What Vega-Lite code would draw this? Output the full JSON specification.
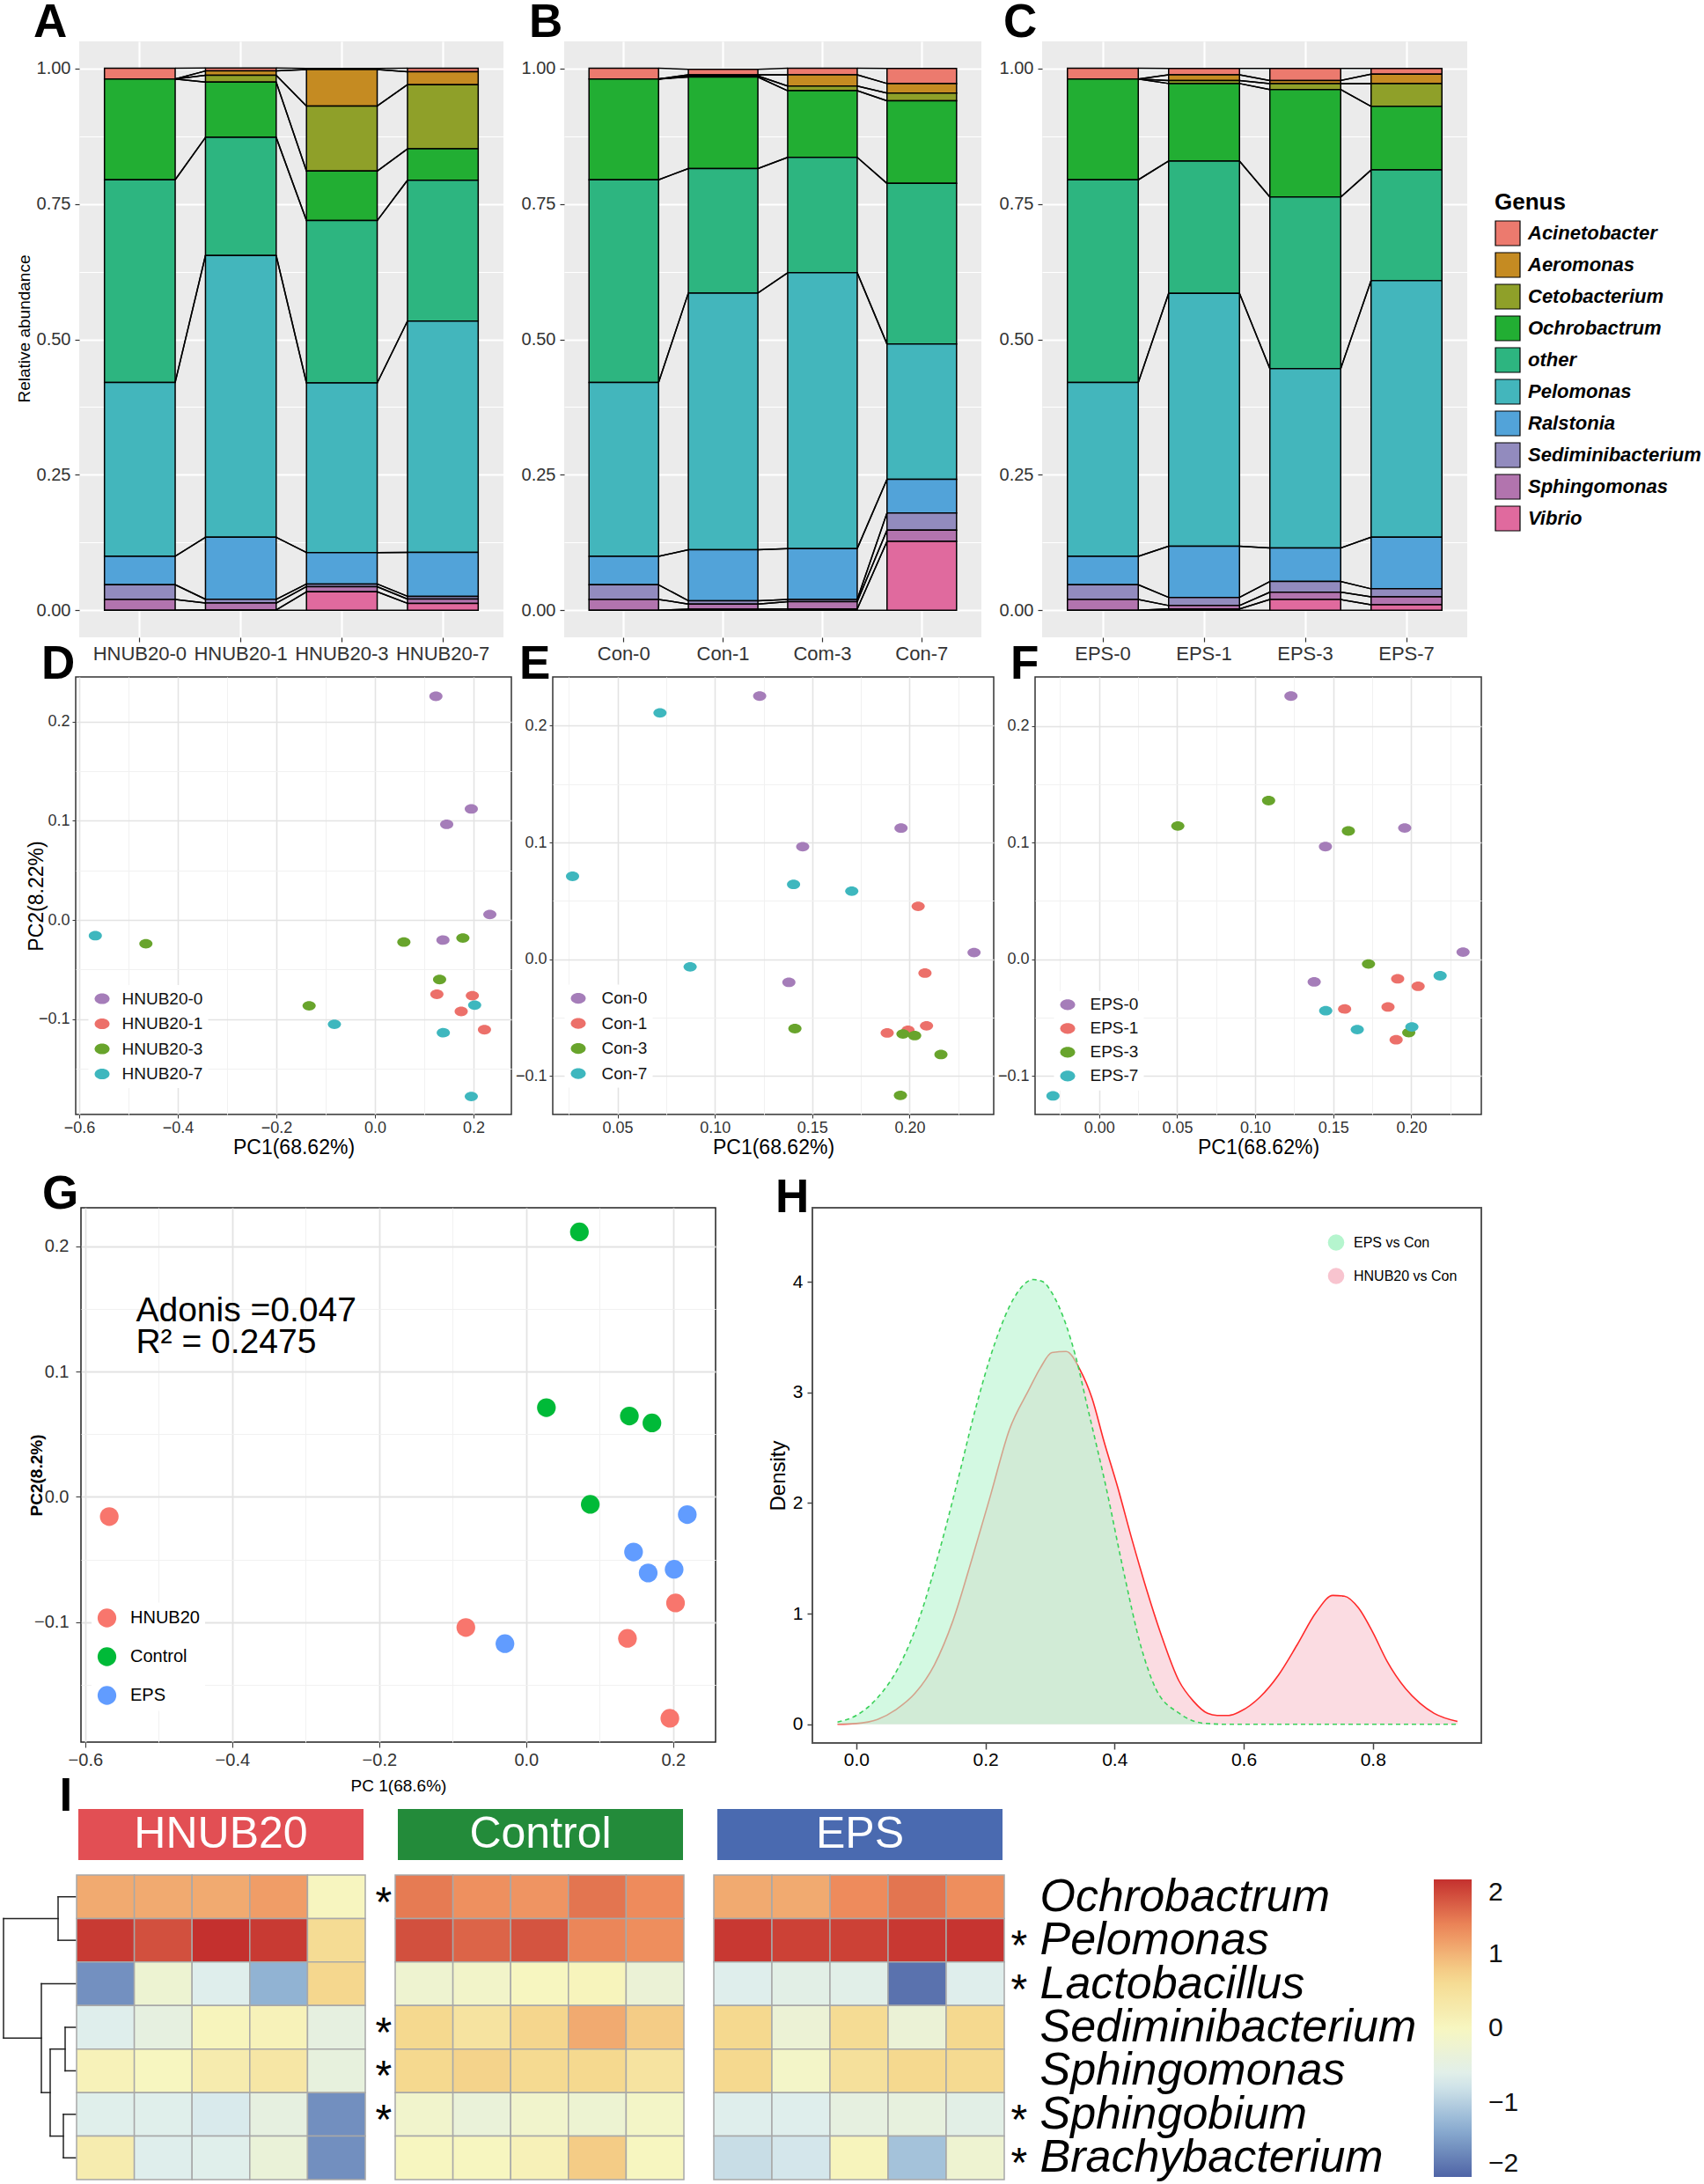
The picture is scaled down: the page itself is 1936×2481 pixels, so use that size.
{
"$schema": "https://vega.github.io/schema/vega-lite/v6.json",
"background": "white",
"padding": {"left": 2, "top": 0, "right": 0, "bottom": 0},
"config": {
  "font": "Liberation Sans",
  "view": {"stroke": null},
  "axis": {"labelFont": "Liberation Sans", "titleFont": "Liberation Sans", "labelColor": "#333333", "titleColor": "#000000", "tickColor": "#333333", "domain": false, "titleFontWeight": "normal", "labelOverlap": false, "labelFlush": false},
  "legend": {"labelFont": "Liberation Sans", "titleFont": "Liberation Sans", "labelLimit": 600},
  "title": {"font": "Liberation Sans", "fontWeight": "bold", "fontSize": 53, "anchor": "start", "frame": "group", "baseline": "alphabetic", "color": "#000000"}
},
"datasets": {
  "bars": [
    {"panel":"A","sample":"HNUB20-0","day":0,"Acinetobacter":0.020,"Aeromonas":0,"Cetobacterium":0,"Ochrobactrum":0.186,"other":0.374,"Pelomonas":0.321,"Ralstonia":0.0525,"Sediminibacterium":0.027,"Sphingomonas":0.020,"Vibrio":0},
    {"panel":"A","sample":"HNUB20-1","day":1,"Acinetobacter":0.0056,"Aeromonas":0.008,"Cetobacterium":0.0127,"Ochrobactrum":0.102,"other":0.218,"Pelomonas":0.520,"Ralstonia":0.1145,"Sediminibacterium":0.007,"Sphingomonas":0.0127,"Vibrio":0.0005},
    {"panel":"A","sample":"HNUB20-3","day":3,"Acinetobacter":0.002,"Aeromonas":0.0676,"Cetobacterium":0.120,"Ochrobactrum":0.0914,"other":0.2997,"Pelomonas":0.313,"Ralstonia":0.058,"Sediminibacterium":0.005,"Sphingomonas":0.0095,"Vibrio":0.034},
    {"panel":"A","sample":"HNUB20-7","day":7,"Acinetobacter":0.0064,"Aeromonas":0.0238,"Cetobacterium":0.1184,"Ochrobactrum":0.058,"other":0.260,"Pelomonas":0.427,"Ralstonia":0.081,"Sediminibacterium":0.005,"Sphingomonas":0.008,"Vibrio":0.0127},
    {"panel":"B","sample":"Con-0","day":0,"Acinetobacter":0.020,"Aeromonas":0,"Cetobacterium":0,"Ochrobactrum":0.186,"other":0.374,"Pelomonas":0.321,"Ralstonia":0.0525,"Sediminibacterium":0.027,"Sphingomonas":0.020,"Vibrio":0},
    {"panel":"B","sample":"Con-1","day":1,"Acinetobacter":0.0103,"Aeromonas":0.002,"Cetobacterium":0.002,"Ochrobactrum":0.169,"other":0.2297,"Pelomonas":0.474,"Ralstonia":0.094,"Sediminibacterium":0.006,"Sphingomonas":0.0095,"Vibrio":0.002},
    {"panel":"B","sample":"Com-3","day":3,"Acinetobacter":0.012,"Aeromonas":0.0207,"Cetobacterium":0.0087,"Ochrobactrum":0.123,"other":0.213,"Pelomonas":0.509,"Ralstonia":0.094,"Sediminibacterium":0.004,"Sphingomonas":0.0135,"Vibrio":0.0024},
    {"panel":"B","sample":"Con-7","day":7,"Acinetobacter":0.0278,"Aeromonas":0.0175,"Cetobacterium":0.0143,"Ochrobactrum":0.1526,"other":0.2965,"Pelomonas":0.2496,"Ralstonia":0.062,"Sediminibacterium":0.0318,"Sphingomonas":0.0207,"Vibrio":0.1272},
    {"panel":"C","sample":"EPS-0","day":0,"Acinetobacter":0.020,"Aeromonas":0,"Cetobacterium":0,"Ochrobactrum":0.186,"other":0.374,"Pelomonas":0.321,"Ralstonia":0.0525,"Sediminibacterium":0.027,"Sphingomonas":0.020,"Vibrio":0},
    {"panel":"C","sample":"EPS-1","day":1,"Acinetobacter":0.012,"Aeromonas":0.0103,"Cetobacterium":0.0056,"Ochrobactrum":0.143,"other":0.2444,"Pelomonas":0.4667,"Ralstonia":0.0944,"Sediminibacterium":0.015,"Sphingomonas":0.0063,"Vibrio":0.0024},
    {"panel":"C","sample":"EPS-3","day":3,"Acinetobacter":0.0222,"Aeromonas":0.0056,"Cetobacterium":0.0111,"Ochrobactrum":0.1984,"other":0.3167,"Pelomonas":0.331,"Ralstonia":0.0619,"Sediminibacterium":0.0198,"Sphingomonas":0.0135,"Vibrio":0.0198},
    {"panel":"C","sample":"EPS-7","day":7,"Acinetobacter":0.0103,"Aeromonas":0.0175,"Cetobacterium":0.042,"Ochrobactrum":0.1175,"other":0.204,"Pelomonas":0.4738,"Ralstonia":0.0952,"Sediminibacterium":0.015,"Sphingomonas":0.0143,"Vibrio":0.0103}
  ],
  "pts": [
    {"panel":"D","grp":"HNUB20-0","x":0.1237,"y":0.2255},{"panel":"D","grp":"HNUB20-0","x":0.1955,"y":0.112},{"panel":"D","grp":"HNUB20-0","x":0.1456,"y":0.0964},{"panel":"D","grp":"HNUB20-0","x":0.2331,"y":0.0056},{"panel":"D","grp":"HNUB20-0","x":0.138,"y":-0.0202},
    {"panel":"D","grp":"HNUB20-1","x":0.1257,"y":-0.0749},{"panel":"D","grp":"HNUB20-1","x":0.1976,"y":-0.0763},{"panel":"D","grp":"HNUB20-1","x":0.175,"y":-0.0922},{"panel":"D","grp":"HNUB20-1","x":0.2222,"y":-0.1106},
    {"panel":"D","grp":"HNUB20-3","x":-0.4646,"y":-0.0239},{"panel":"D","grp":"HNUB20-3","x":0.0587,"y":-0.0222},{"panel":"D","grp":"HNUB20-3","x":0.1784,"y":-0.0182},{"panel":"D","grp":"HNUB20-3","x":0.1312,"y":-0.06},{"panel":"D","grp":"HNUB20-3","x":-0.1335,"y":-0.0865},
    {"panel":"D","grp":"HNUB20-7","x":-0.5672,"y":-0.0158},{"panel":"D","grp":"HNUB20-7","x":-0.0822,"y":-0.1051},{"panel":"D","grp":"HNUB20-7","x":0.1387,"y":-0.1136},{"panel":"D","grp":"HNUB20-7","x":0.2023,"y":-0.0858},{"panel":"D","grp":"HNUB20-7","x":0.1955,"y":-0.1779},
    {"panel":"E","grp":"Con-0","x":0.123,"y":0.2254},{"panel":"E","grp":"Con-0","x":0.1956,"y":0.1124},{"panel":"E","grp":"Con-0","x":0.1451,"y":0.0965},{"panel":"E","grp":"Con-0","x":0.2331,"y":0.0058},{"panel":"E","grp":"Con-0","x":0.138,"y":-0.0197},
    {"panel":"E","grp":"Con-1","x":0.2044,"y":0.0454},{"panel":"E","grp":"Con-1","x":0.2079,"y":-0.0118},{"panel":"E","grp":"Con-1","x":0.2087,"y":-0.0569},{"panel":"E","grp":"Con-1","x":0.1885,"y":-0.063},{"panel":"E","grp":"Con-1","x":0.1992,"y":-0.0607},
    {"panel":"E","grp":"Con-3","x":0.1411,"y":-0.0593},{"panel":"E","grp":"Con-3","x":0.1966,"y":-0.0639},{"panel":"E","grp":"Con-3","x":0.2026,"y":-0.0653},{"panel":"E","grp":"Con-3","x":0.2161,"y":-0.0815},{"panel":"E","grp":"Con-3","x":0.1953,"y":-0.1165},
    {"panel":"E","grp":"Con-7","x":0.0718,"y":0.211},{"panel":"E","grp":"Con-7","x":0.0269,"y":0.0711},{"panel":"E","grp":"Con-7","x":0.1404,"y":0.0642},{"panel":"E","grp":"Con-7","x":0.1703,"y":0.0584},{"panel":"E","grp":"Con-7","x":0.0873,"y":-0.0064},
    {"panel":"F","grp":"EPS-0","x":0.1229,"y":0.2255},{"panel":"F","grp":"EPS-0","x":0.1958,"y":0.1125},{"panel":"F","grp":"EPS-0","x":0.145,"y":0.0965},{"panel":"F","grp":"EPS-0","x":0.2332,"y":0.0061},{"panel":"F","grp":"EPS-0","x":0.1378,"y":-0.0194},
    {"panel":"F","grp":"EPS-1","x":0.1913,"y":-0.0168},{"panel":"F","grp":"EPS-1","x":0.2044,"y":-0.0232},{"panel":"F","grp":"EPS-1","x":0.1573,"y":-0.0426},{"panel":"F","grp":"EPS-1","x":0.1851,"y":-0.0409},{"panel":"F","grp":"EPS-1","x":0.1903,"y":-0.069},
    {"panel":"F","grp":"EPS-3","x":0.0504,"y":0.1142},{"panel":"F","grp":"EPS-3","x":0.1086,"y":0.1359},{"panel":"F","grp":"EPS-3","x":0.1597,"y":0.1099},{"panel":"F","grp":"EPS-3","x":0.1726,"y":-0.0041},{"panel":"F","grp":"EPS-3","x":0.1984,"y":-0.0629},
    {"panel":"F","grp":"EPS-7","x":0.2185,"y":-0.0142},{"panel":"F","grp":"EPS-7","x":0.1452,"y":-0.0441},{"panel":"F","grp":"EPS-7","x":0.1654,"y":-0.0603},{"panel":"F","grp":"EPS-7","x":0.2004,"y":-0.058},{"panel":"F","grp":"EPS-7","x":-0.0296,"y":-0.1171}
  ],
  "gpts": [
    {"grp":"HNUB20","x":-0.5673,"y":-0.0157},{"grp":"HNUB20","x":-0.0821,"y":-0.1042},{"grp":"HNUB20","x":0.1378,"y":-0.1129},{"grp":"HNUB20","x":0.2032,"y":-0.0846},{"grp":"HNUB20","x":0.1955,"y":-0.1766},
    {"grp":"Control","x":0.0724,"y":0.2113},{"grp":"Control","x":0.0275,"y":0.0712},{"grp":"Control","x":0.1404,"y":0.0645},{"grp":"Control","x":0.1711,"y":0.059},{"grp":"Control","x":0.0872,"y":-0.006},
    {"grp":"EPS","x":0.2192,"y":-0.0141},{"grp":"EPS","x":0.1461,"y":-0.044},{"grp":"EPS","x":0.166,"y":-0.0607},{"grp":"EPS","x":0.2013,"y":-0.0578},{"grp":"EPS","x":-0.0289,"y":-0.1171}
  ],
  "dens": [
    {"s":"EPS vs Con","x":-0.029,"y":0.02},{"s":"EPS vs Con","x":0.0,"y":0.08},{"s":"EPS vs Con","x":0.033,"y":0.24},{"s":"EPS vs Con","x":0.066,"y":0.52},{"s":"EPS vs Con","x":0.099,"y":0.98},{"s":"EPS vs Con","x":0.128,"y":1.55},{"s":"EPS vs Con","x":0.157,"y":2.2},{"s":"EPS vs Con","x":0.186,"y":2.88},{"s":"EPS vs Con","x":0.215,"y":3.45},{"s":"EPS vs Con","x":0.245,"y":3.86},{"s":"EPS vs Con","x":0.274,"y":4.02},{"s":"EPS vs Con","x":0.289,"y":4.0},{"s":"EPS vs Con","x":0.303,"y":3.9},{"s":"EPS vs Con","x":0.325,"y":3.61},{"s":"EPS vs Con","x":0.34,"y":3.32},{"s":"EPS vs Con","x":0.358,"y":2.87},{"s":"EPS vs Con","x":0.387,"y":2.14},{"s":"EPS vs Con","x":0.413,"y":1.41},{"s":"EPS vs Con","x":0.442,"y":0.68},{"s":"EPS vs Con","x":0.464,"y":0.32},{"s":"EPS vs Con","x":0.5,"y":0.1},{"s":"EPS vs Con","x":0.537,"y":0.01},{"s":"EPS vs Con","x":0.574,"y":0.0},{"s":"EPS vs Con","x":0.7,"y":0.0},{"s":"EPS vs Con","x":0.931,"y":0.0},
    {"s":"HNUB20 vs Con","x":-0.029,"y":0.0},{"s":"HNUB20 vs Con","x":0.0,"y":0.007},{"s":"HNUB20 vs Con","x":0.033,"y":0.044},{"s":"HNUB20 vs Con","x":0.062,"y":0.135},{"s":"HNUB20 vs Con","x":0.091,"y":0.28},{"s":"HNUB20 vs Con","x":0.121,"y":0.537},{"s":"HNUB20 vs Con","x":0.15,"y":0.94},{"s":"HNUB20 vs Con","x":0.179,"y":1.49},{"s":"HNUB20 vs Con","x":0.208,"y":2.07},{"s":"HNUB20 vs Con","x":0.237,"y":2.66},{"s":"HNUB20 vs Con","x":0.267,"y":3.02},{"s":"HNUB20 vs Con","x":0.285,"y":3.22},{"s":"HNUB20 vs Con","x":0.303,"y":3.36},{"s":"HNUB20 vs Con","x":0.325,"y":3.37},{"s":"HNUB20 vs Con","x":0.347,"y":3.2},{"s":"HNUB20 vs Con","x":0.365,"y":2.95},{"s":"HNUB20 vs Con","x":0.384,"y":2.55},{"s":"HNUB20 vs Con","x":0.405,"y":2.14},{"s":"HNUB20 vs Con","x":0.427,"y":1.67},{"s":"HNUB20 vs Con","x":0.449,"y":1.23},{"s":"HNUB20 vs Con","x":0.471,"y":0.83},{"s":"HNUB20 vs Con","x":0.5,"y":0.39},{"s":"HNUB20 vs Con","x":0.522,"y":0.21},{"s":"HNUB20 vs Con","x":0.544,"y":0.099},{"s":"HNUB20 vs Con","x":0.559,"y":0.08},{"s":"HNUB20 vs Con","x":0.577,"y":0.08},{"s":"HNUB20 vs Con","x":0.595,"y":0.117},{"s":"HNUB20 vs Con","x":0.625,"y":0.245},{"s":"HNUB20 vs Con","x":0.654,"y":0.446},{"s":"HNUB20 vs Con","x":0.683,"y":0.72},{"s":"HNUB20 vs Con","x":0.712,"y":1.01},{"s":"HNUB20 vs Con","x":0.738,"y":1.165},{"s":"HNUB20 vs Con","x":0.756,"y":1.158},{"s":"HNUB20 vs Con","x":0.778,"y":1.05},{"s":"HNUB20 vs Con","x":0.8,"y":0.83},{"s":"HNUB20 vs Con","x":0.822,"y":0.57},{"s":"HNUB20 vs Con","x":0.851,"y":0.32},{"s":"HNUB20 vs Con","x":0.873,"y":0.19},{"s":"HNUB20 vs Con","x":0.895,"y":0.099},{"s":"HNUB20 vs Con","x":0.931,"y":0.026}
  ],
  "heat": [
    {"grp":"HNUB20","genus":"Ochrobactrum","1":1.07,"2":1.07,"3":1.07,"4":1.19,"5":0.02},
    {"grp":"HNUB20","genus":"Pelomonas","1":1.93,"2":1.77,"3":2.0,"4":1.93,"5":0.6},
    {"grp":"HNUB20","genus":"Lactobacillus","1":-1.61,"2":-0.26,"3":-0.64,"4":-1.3,"5":0.68},
    {"grp":"HNUB20","genus":"Sediminibacterium","1":-0.64,"2":-0.46,"3":0.05,"4":0.09,"5":-0.46},
    {"grp":"HNUB20","genus":"Sphingomonas","1":0.09,"2":0.0,"3":0.25,"4":0.37,"5":-0.42},
    {"grp":"HNUB20","genus":"Sphingobium","1":-0.62,"2":-0.62,"3":-0.71,"4":-0.46,"5":-1.62},
    {"grp":"HNUB20","genus":"Brachybacterium","1":0.23,"2":-0.64,"3":-0.62,"4":-0.35,"5":-1.62},
    {"grp":"Control","genus":"Ochrobactrum","1":1.46,"2":1.30,"3":1.26,"4":1.5,"5":1.34},
    {"grp":"Control","genus":"Pelomonas","1":1.77,"2":1.62,"3":1.74,"4":1.38,"5":1.32},
    {"grp":"Control","genus":"Lactobacillus","1":-0.23,"2":-0.13,"3":0.0,"4":0.05,"5":-0.32},
    {"grp":"Control","genus":"Sediminibacterium","1":0.67,"2":0.44,"3":0.69,"4":1.07,"5":0.78},
    {"grp":"Control","genus":"Sphingomonas","1":0.67,"2":0.72,"3":0.64,"4":0.66,"5":0.44},
    {"grp":"Control","genus":"Sphingobium","1":-0.17,"2":-0.36,"3":-0.17,"4":-0.26,"5":-0.1},
    {"grp":"Control","genus":"Brachybacterium","1":0.0,"2":0.0,"3":0.11,"4":0.78,"5":0.0},
    {"grp":"EPS","genus":"Ochrobactrum","1":1.07,"2":1.07,"3":1.34,"4":1.5,"5":1.32},
    {"grp":"EPS","genus":"Pelomonas","1":1.94,"2":1.88,"3":1.88,"4":1.94,"5":1.97},
    {"grp":"EPS","genus":"Lactobacillus","1":-0.64,"2":-0.55,"3":-0.58,"4":-1.88,"5":-0.64},
    {"grp":"EPS","genus":"Sediminibacterium","1":0.67,"2":-0.3,"3":0.6,"4":-0.32,"5":0.67},
    {"grp":"EPS","genus":"Sphingomonas","1":0.67,"2":-0.12,"3":0.51,"4":0.67,"5":0.64},
    {"grp":"EPS","genus":"Sphingobium","1":-0.64,"2":-0.64,"3":-0.46,"4":-0.44,"5":-0.55},
    {"grp":"EPS","genus":"Brachybacterium","1":-0.85,"2":-0.75,"3":0.05,"4":-1.14,"5":-0.25}
  ],
  "dendro": [
    {"h1":0,"h2":20,"r1":0,"r2":0},{"h1":0,"h2":20,"r1":1,"r2":1},{"h1":20,"h2":20,"r1":0,"r2":1},
    {"h1":0,"h2":12,"r1":3,"r2":3},{"h1":0,"h2":12,"r1":4,"r2":4},{"h1":12,"h2":12,"r1":3,"r2":4},
    {"h1":0,"h2":14,"r1":5,"r2":5},{"h1":0,"h2":14,"r1":6,"r2":6},{"h1":14,"h2":14,"r1":5,"r2":6},
    {"h1":12,"h2":29,"r1":3.5,"r2":3.5},{"h1":14,"h2":29,"r1":5.5,"r2":5.5},{"h1":29,"h2":29,"r1":3.5,"r2":5.5},
    {"h1":0,"h2":39,"r1":2,"r2":2},{"h1":29,"h2":39,"r1":4.5,"r2":4.5},{"h1":39,"h2":39,"r1":2,"r2":4.5},
    {"h1":20,"h2":82,"r1":0.5,"r2":0.5},{"h1":39,"h2":82,"r1":3.25,"r2":3.25},{"h1":82,"h2":82,"r1":0.5,"r2":3.25}
  ]
},
"spacing": -40,
"resolve": {"scale": {"color": "independent"}, "legend": {"color": "independent"}},
"vconcat": [
 {
  "hconcat": [
   {"width": 17, "height": 721, "data": {"values": []}, "mark": "point"},
   {
    "width": 482, "height": 677,
    "view": {"fill": "#EBEBEB", "stroke": null},
    "title": {"text": "A", "dx": -52, "offset": -6},
    "data": {"name": "bars"},
    "transform": [
     {"filter": "datum.panel === 'A'"},
     {"fold": ["Acinetobacter","Aeromonas","Cetobacterium","Ochrobactrum","other","Pelomonas","Ralstonia","Sediminibacterium","Sphingomonas","Vibrio"], "as": ["genus", "value"]},
     {"calculate": "indexof(['Acinetobacter','Aeromonas','Cetobacterium','Ochrobactrum','other','Pelomonas','Ralstonia','Sediminibacterium','Sphingomonas','Vibrio'], datum.genus)", "as": "gi"},
     {"stack": "value", "groupby": ["sample"], "sort": [{"field": "gi", "order": "descending"}], "as": ["y0", "y1"]},
     {"window": [{"op": "lead", "field": "y0", "as": "ny0"}, {"op": "lead", "field": "y1", "as": "ny1"}, {"op": "lead", "field": "sample", "as": "ns"}], "groupby": ["genus"], "sort": [{"field": "day", "order": "ascending"}]}
    ],
    "layer": [
     {"mark": {"type": "bar", "stroke": "#000000", "strokeWidth": 1.5},
      "encoding": {
       "x": {"field": "sample", "type": "nominal", "scale": {"domain": ["HNUB20-0","HNUB20-1","HNUB20-3","HNUB20-7"], "paddingInner": 0.3, "paddingOuter": 0.25},
             "axis": {"title": null, "labelFontSize": 22, "labelAngle": 0, "tickSize": 5, "tickWidth": 1.2, "labelPadding": 3, "grid": true, "gridColor": "#FFFFFF", "gridWidth": 2.2, "bandPosition": 0.5}},
       "y": {"field": "y1", "type": "quantitative", "scale": {"domain": [-0.05, 1.05], "nice": false, "zero": false},
             "axis": {"title": "Relative abundance", "titleFontSize": 19, "titleX": -57, "titleY": 326, "titleBaseline": "alphabetic",
                      "values": [0,0.125,0.25,0.375,0.5,0.625,0.75,0.875,1],
                      "labelExpr": "abs(datum.value*4-round(datum.value*4))<0.000001 ? format(datum.value,'.2f') : ''",
                      "labelFontSize": 20, "tickSize": 5, "tickWidth": 1.2, "labelPadding": 5,
                      "tickOpacity": {"condition": {"test": "abs(datum.value*4-round(datum.value*4))<0.000001", "value": 1}, "value": 0},
                      "grid": true, "gridColor": "#FFFFFF",
                      "gridWidth": {"condition": {"test": "abs(datum.value*4-round(datum.value*4))<0.000001", "value": 2.2}, "value": 1.1}}},
       "y2": {"field": "y0"},
       "color": {"field": "genus", "type": "nominal", "scale": {"domain": ["Acinetobacter","Aeromonas","Cetobacterium","Ochrobactrum","other","Pelomonas","Ralstonia","Sediminibacterium","Sphingomonas","Vibrio"], "range": ["#EC7A6E","#C58B22","#8FA029","#22AE33","#2DB580","#43B6BC","#52A3D9","#928BBE","#B274AE","#E06A9E"]}, "legend": null}
      }},
     {"transform": [{"filter": "datum.ns != null"}],
      "mark": {"type": "rule", "color": "#000000", "strokeWidth": 1.5},
      "encoding": {
       "x": {"field": "sample", "type": "nominal", "bandPosition": 1, "scale": {"domain": ["HNUB20-0","HNUB20-1","HNUB20-3","HNUB20-7"], "paddingInner": 0.3, "paddingOuter": 0.25}},
       "x2": {"field": "ns", "bandPosition": 0},
       "y": {"field": "y1", "type": "quantitative", "scale": {"domain": [-0.05, 1.05], "nice": false, "zero": false}},
       "y2": {"field": "ny1"}
      }},
     {"transform": [{"filter": "datum.ns != null"}],
      "mark": {"type": "rule", "color": "#000000", "strokeWidth": 1.5},
      "encoding": {
       "x": {"field": "sample", "type": "nominal", "bandPosition": 1, "scale": {"domain": ["HNUB20-0","HNUB20-1","HNUB20-3","HNUB20-7"], "paddingInner": 0.3, "paddingOuter": 0.25}},
       "x2": {"field": "ns", "bandPosition": 0},
       "y": {"field": "y0", "type": "quantitative", "scale": {"domain": [-0.05, 1.05], "nice": false, "zero": false}},
       "y2": {"field": "ny0"}
      }}
    ]
   },
   {
    "width": 474, "height": 677,
    "view": {"fill": "#EBEBEB", "stroke": null},
    "title": {"text": "B", "dx": -40, "offset": -6},
    "data": {"name": "bars"},
    "transform": [
     {"filter": "datum.panel === 'B'"},
     {"fold": ["Acinetobacter","Aeromonas","Cetobacterium","Ochrobactrum","other","Pelomonas","Ralstonia","Sediminibacterium","Sphingomonas","Vibrio"], "as": ["genus", "value"]},
     {"calculate": "indexof(['Acinetobacter','Aeromonas','Cetobacterium','Ochrobactrum','other','Pelomonas','Ralstonia','Sediminibacterium','Sphingomonas','Vibrio'], datum.genus)", "as": "gi"},
     {"stack": "value", "groupby": ["sample"], "sort": [{"field": "gi", "order": "descending"}], "as": ["y0", "y1"]},
     {"window": [{"op": "lead", "field": "y0", "as": "ny0"}, {"op": "lead", "field": "y1", "as": "ny1"}, {"op": "lead", "field": "sample", "as": "ns"}], "groupby": ["genus"], "sort": [{"field": "day", "order": "ascending"}]}
    ],
    "layer": [
     {"mark": {"type": "bar", "stroke": "#000000", "strokeWidth": 1.5},
      "encoding": {
       "x": {"field": "sample", "type": "nominal", "scale": {"domain": ["Con-0","Con-1","Com-3","Con-7"], "paddingInner": 0.3, "paddingOuter": 0.25},
             "axis": {"title": null, "labelFontSize": 22, "labelAngle": 0, "tickSize": 5, "tickWidth": 1.2, "labelPadding": 3, "grid": true, "gridColor": "#FFFFFF", "gridWidth": 2.2, "bandPosition": 0.5}},
       "y": {"field": "y1", "type": "quantitative", "scale": {"domain": [-0.05, 1.05], "nice": false, "zero": false},
             "axis": {"title": null,
                      "values": [0,0.125,0.25,0.375,0.5,0.625,0.75,0.875,1],
                      "labelExpr": "abs(datum.value*4-round(datum.value*4))<0.000001 ? format(datum.value,'.2f') : ''",
                      "labelFontSize": 20, "tickSize": 5, "tickWidth": 1.2, "labelPadding": 5,
                      "tickOpacity": {"condition": {"test": "abs(datum.value*4-round(datum.value*4))<0.000001", "value": 1}, "value": 0},
                      "grid": true, "gridColor": "#FFFFFF",
                      "gridWidth": {"condition": {"test": "abs(datum.value*4-round(datum.value*4))<0.000001", "value": 2.2}, "value": 1.1}}},
       "y2": {"field": "y0"},
       "color": {"field": "genus", "type": "nominal", "scale": {"domain": ["Acinetobacter","Aeromonas","Cetobacterium","Ochrobactrum","other","Pelomonas","Ralstonia","Sediminibacterium","Sphingomonas","Vibrio"], "range": ["#EC7A6E","#C58B22","#8FA029","#22AE33","#2DB580","#43B6BC","#52A3D9","#928BBE","#B274AE","#E06A9E"]}, "legend": null}
      }},
     {"transform": [{"filter": "datum.ns != null"}],
      "mark": {"type": "rule", "color": "#000000", "strokeWidth": 1.5},
      "encoding": {
       "x": {"field": "sample", "type": "nominal", "bandPosition": 1, "scale": {"domain": ["Con-0","Con-1","Com-3","Con-7"], "paddingInner": 0.3, "paddingOuter": 0.25}},
       "x2": {"field": "ns", "bandPosition": 0},
       "y": {"field": "y1", "type": "quantitative", "scale": {"domain": [-0.05, 1.05], "nice": false, "zero": false}},
       "y2": {"field": "ny1"}
      }},
     {"transform": [{"filter": "datum.ns != null"}],
      "mark": {"type": "rule", "color": "#000000", "strokeWidth": 1.5},
      "encoding": {
       "x": {"field": "sample", "type": "nominal", "bandPosition": 1, "scale": {"domain": ["Con-0","Con-1","Com-3","Con-7"], "paddingInner": 0.3, "paddingOuter": 0.25}},
       "x2": {"field": "ns", "bandPosition": 0},
       "y": {"field": "y0", "type": "quantitative", "scale": {"domain": [-0.05, 1.05], "nice": false, "zero": false}},
       "y2": {"field": "ny0"}
      }}
    ]
   },
   {
    "width": 483, "height": 677,
    "view": {"fill": "#EBEBEB", "stroke": null},
    "title": {"text": "C", "dx": -44, "offset": -6},
    "data": {"name": "bars"},
    "transform": [
     {"filter": "datum.panel === 'C'"},
     {"fold": ["Acinetobacter","Aeromonas","Cetobacterium","Ochrobactrum","other","Pelomonas","Ralstonia","Sediminibacterium","Sphingomonas","Vibrio"], "as": ["genus", "value"]},
     {"calculate": "indexof(['Acinetobacter','Aeromonas','Cetobacterium','Ochrobactrum','other','Pelomonas','Ralstonia','Sediminibacterium','Sphingomonas','Vibrio'], datum.genus)", "as": "gi"},
     {"stack": "value", "groupby": ["sample"], "sort": [{"field": "gi", "order": "descending"}], "as": ["y0", "y1"]},
     {"window": [{"op": "lead", "field": "y0", "as": "ny0"}, {"op": "lead", "field": "y1", "as": "ny1"}, {"op": "lead", "field": "sample", "as": "ns"}], "groupby": ["genus"], "sort": [{"field": "day", "order": "ascending"}]}
    ],
    "layer": [
     {"mark": {"type": "bar", "stroke": "#000000", "strokeWidth": 1.5},
      "encoding": {
       "x": {"field": "sample", "type": "nominal", "scale": {"domain": ["EPS-0","EPS-1","EPS-3","EPS-7"], "paddingInner": 0.3, "paddingOuter": 0.25},
             "axis": {"title": null, "labelFontSize": 22, "labelAngle": 0, "tickSize": 5, "tickWidth": 1.2, "labelPadding": 3, "grid": true, "gridColor": "#FFFFFF", "gridWidth": 2.2, "bandPosition": 0.5}},
       "y": {"field": "y1", "type": "quantitative", "scale": {"domain": [-0.05, 1.05], "nice": false, "zero": false},
             "axis": {"title": null,
                      "values": [0,0.125,0.25,0.375,0.5,0.625,0.75,0.875,1],
                      "labelExpr": "abs(datum.value*4-round(datum.value*4))<0.000001 ? format(datum.value,'.2f') : ''",
                      "labelFontSize": 20, "tickSize": 5, "tickWidth": 1.2, "labelPadding": 5,
                      "tickOpacity": {"condition": {"test": "abs(datum.value*4-round(datum.value*4))<0.000001", "value": 1}, "value": 0},
                      "grid": true, "gridColor": "#FFFFFF",
                      "gridWidth": {"condition": {"test": "abs(datum.value*4-round(datum.value*4))<0.000001", "value": 2.2}, "value": 1.1}}},
       "y2": {"field": "y0"},
       "color": {"field": "genus", "type": "nominal", "scale": {"domain": ["Acinetobacter","Aeromonas","Cetobacterium","Ochrobactrum","other","Pelomonas","Ralstonia","Sediminibacterium","Sphingomonas","Vibrio"], "range": ["#EC7A6E","#C58B22","#8FA029","#22AE33","#2DB580","#43B6BC","#52A3D9","#928BBE","#B274AE","#E06A9E"]},
                 "legend": {"title": "Genus", "orient": "none", "legendX": 514, "legendY": 170, "symbolType": "square", "symbolSize": 784, "symbolStrokeColor": "#000000", "symbolStrokeWidth": 1.2, "titleFontSize": 26, "titleFontWeight": "bold", "titlePadding": 7, "titleColor": "#000000", "labelFontSize": 22, "labelFontStyle": "italic", "labelFontWeight": "bold", "labelColor": "#000000", "labelOffset": 8, "rowPadding": 2, "padding": 0, "labelLimit": 600}}
      }},
     {"transform": [{"filter": "datum.ns != null"}],
      "mark": {"type": "rule", "color": "#000000", "strokeWidth": 1.5},
      "encoding": {
       "x": {"field": "sample", "type": "nominal", "bandPosition": 1, "scale": {"domain": ["EPS-0","EPS-1","EPS-3","EPS-7"], "paddingInner": 0.3, "paddingOuter": 0.25}},
       "x2": {"field": "ns", "bandPosition": 0},
       "y": {"field": "y1", "type": "quantitative", "scale": {"domain": [-0.05, 1.05], "nice": false, "zero": false}},
       "y2": {"field": "ny1"}
      }},
     {"transform": [{"filter": "datum.ns != null"}],
      "mark": {"type": "rule", "color": "#000000", "strokeWidth": 1.5},
      "encoding": {
       "x": {"field": "sample", "type": "nominal", "bandPosition": 1, "scale": {"domain": ["EPS-0","EPS-1","EPS-3","EPS-7"], "paddingInner": 0.3, "paddingOuter": 0.25}},
       "x2": {"field": "ns", "bandPosition": 0},
       "y": {"field": "y0", "type": "quantitative", "scale": {"domain": [-0.05, 1.05], "nice": false, "zero": false}},
       "y2": {"field": "ny0"}
      }}
    ]
   }
  ],
  "spacing": 69, "bounds": "flush",
  "resolve": {"scale": {"color": "independent"}, "legend": {"color": "independent"}}
 },
 {
  "hconcat": [
   {"width": 35, "height": 601, "data": {"values": []}, "mark": "point"},
   {
    "width": 495, "height": 497,
    "view": {"stroke": "#333333", "strokeWidth": 1.5},
    "title": {"text": "D", "dx": -39, "offset": -13},
    "data": {"name": "pts"},
    "transform": [{"filter": "datum.panel === 'D'"}],
    "mark": {"type": "point", "filled": true, "opacity": 1, "size": 225, "shape": "M-1,0C-1,-0.398,-0.552,-0.72,0,-0.72C0.552,-0.72,1,-0.398,1,0C1,0.398,0.552,0.72,0,0.72C-0.552,0.72,-1,0.398,-1,0Z"},
    "encoding": {
     "x": {"field": "x", "type": "quantitative", "scale": {"domain": [-0.607, 0.2768], "nice": false, "zero": false},
           "axis": {"title": "PC1(68.62%)", "titleFontSize": 23, "titleY": 44, "titleBaseline": "alphabetic",
                    "values": [-0.6,-0.5,-0.4,-0.3,-0.2,-0.1,0,0.1,0.2],
                    "labelExpr": "abs(datum.value*5-round(datum.value*5))<0.000001 ? format(datum.value,'.1f') : ''",
                    "labelFontSize": 18, "tickSize": 4, "labelPadding": 2,
                    "tickOpacity": {"condition": {"test": "abs(datum.value*5-round(datum.value*5))<0.000001", "value": 1}, "value": 0},
                    "grid": true,
                    "gridColor": {"condition": {"test": "abs(datum.value*5-round(datum.value*5))<0.000001", "value": "#E3E3E3"}, "value": "#F1F1F1"},
                    "gridWidth": {"condition": {"test": "abs(datum.value*5-round(datum.value*5))<0.000001", "value": 1.6}, "value": 1}}},
     "y": {"field": "y", "type": "quantitative", "scale": {"domain": [-0.196, 0.245], "nice": false, "zero": false},
           "axis": {"title": "PC2(8.22%)", "titleFontSize": 23, "titleX": -38, "titleBaseline": "alphabetic",
                    "values": [-0.15,-0.1,-0.05,0,0.05,0.1,0.15,0.2],
                    "labelExpr": "abs(datum.value*10-round(datum.value*10))<0.000001 ? format(datum.value,'.1f') : ''",
                    "labelFontSize": 18, "tickSize": 4, "labelPadding": 3,
                    "tickOpacity": {"condition": {"test": "abs(datum.value*10-round(datum.value*10))<0.000001", "value": 1}, "value": 0},
                    "grid": true,
                    "gridColor": {"condition": {"test": "abs(datum.value*10-round(datum.value*10))<0.000001", "value": "#E3E3E3"}, "value": "#F1F1F1"},
                    "gridWidth": {"condition": {"test": "abs(datum.value*10-round(datum.value*10))<0.000001", "value": 1.6}, "value": 1}}},
     "color": {"field": "grp", "type": "nominal", "scale": {"domain": ["HNUB20-0","HNUB20-1","HNUB20-3","HNUB20-7"], "range": ["#A57DB9","#EC706A","#68A42C","#3EB7BE"]},
               "legend": {"title": null, "orient": "none", "legendX": 14.5, "legendY": 350, "fillColor": "#FFFFFF", "padding": 6, "symbolSize": 289, "labelFontSize": 19, "labelColor": "#111111", "labelOffset": 13, "rowPadding": 8.5}}
    }
   },
   {
    "width": 501, "height": 497,
    "view": {"stroke": "#333333", "strokeWidth": 1.5},
    "title": {"text": "E", "dx": -38, "offset": -13},
    "data": {"name": "pts"},
    "transform": [{"filter": "datum.panel === 'E'"}],
    "mark": {"type": "point", "filled": true, "opacity": 1, "size": 225, "shape": "M-1,0C-1,-0.398,-0.552,-0.72,0,-0.72C0.552,-0.72,1,-0.398,1,0C1,0.398,0.552,0.72,0,0.72C-0.552,0.72,-1,0.398,-1,0Z"},
    "encoding": {
     "x": {"field": "x", "type": "quantitative", "scale": {"domain": [0.01673, 0.2432], "nice": false, "zero": false},
           "axis": {"title": "PC1(68.62%)", "titleFontSize": 23, "titleY": 44, "titleBaseline": "alphabetic",
                    "values": [0.025,0.05,0.075,0.1,0.125,0.15,0.175,0.2,0.225],
                    "labelExpr": "abs(datum.value*20-round(datum.value*20))<0.000001 ? format(datum.value,'.2f') : ''",
                    "labelFontSize": 18, "tickSize": 4, "labelPadding": 2,
                    "tickOpacity": {"condition": {"test": "abs(datum.value*20-round(datum.value*20))<0.000001", "value": 1}, "value": 0},
                    "grid": true,
                    "gridColor": {"condition": {"test": "abs(datum.value*20-round(datum.value*20))<0.000001", "value": "#E3E3E3"}, "value": "#F1F1F1"},
                    "gridWidth": {"condition": {"test": "abs(datum.value*20-round(datum.value*20))<0.000001", "value": 1.6}, "value": 1}}},
     "y": {"field": "y", "type": "quantitative", "scale": {"domain": [-0.1328, 0.2418], "nice": false, "zero": false},
           "axis": {"title": null,
                    "values": [-0.1,-0.05,0,0.05,0.1,0.15,0.2],
                    "labelExpr": "abs(datum.value*10-round(datum.value*10))<0.000001 ? format(datum.value,'.1f') : ''",
                    "labelFontSize": 18, "tickSize": 4, "labelPadding": 3,
                    "tickOpacity": {"condition": {"test": "abs(datum.value*10-round(datum.value*10))<0.000001", "value": 1}, "value": 0},
                    "grid": true,
                    "gridColor": {"condition": {"test": "abs(datum.value*10-round(datum.value*10))<0.000001", "value": "#E3E3E3"}, "value": "#F1F1F1"},
                    "gridWidth": {"condition": {"test": "abs(datum.value*10-round(datum.value*10))<0.000001", "value": 1.6}, "value": 1}}},
     "color": {"field": "grp", "type": "nominal", "scale": {"domain": ["Con-0","Con-1","Con-3","Con-7"], "range": ["#A57DB9","#EC706A","#68A42C","#3EB7BE"]},
               "legend": {"title": null, "orient": "none", "legendX": 13.5, "legendY": 349.6, "fillColor": "#FFFFFF", "padding": 6, "symbolSize": 289, "labelFontSize": 19, "labelColor": "#111111", "labelOffset": 17, "rowPadding": 8.5}}
    }
   },
   {
    "width": 507, "height": 497,
    "view": {"stroke": "#333333", "strokeWidth": 1.5},
    "title": {"text": "F", "dx": -28, "offset": -13},
    "data": {"name": "pts"},
    "transform": [{"filter": "datum.panel === 'F'"}],
    "mark": {"type": "point", "filled": true, "opacity": 1, "size": 225, "shape": "M-1,0C-1,-0.398,-0.552,-0.72,0,-0.72C0.552,-0.72,1,-0.398,1,0C1,0.398,0.552,0.72,0,0.72C-0.552,0.72,-1,0.398,-1,0Z"},
    "encoding": {
     "x": {"field": "x", "type": "quantitative", "scale": {"domain": [-0.04106, 0.2449], "nice": false, "zero": false},
           "axis": {"title": "PC1(68.62%)", "titleFontSize": 23, "titleY": 44, "titleBaseline": "alphabetic",
                    "values": [-0.025,0,0.025,0.05,0.075,0.1,0.125,0.15,0.175,0.2,0.225],
                    "labelExpr": "abs(datum.value*20-round(datum.value*20))<0.000001 ? format(datum.value,'.2f') : ''",
                    "labelFontSize": 18, "tickSize": 4, "labelPadding": 2,
                    "tickOpacity": {"condition": {"test": "abs(datum.value*20-round(datum.value*20))<0.000001", "value": 1}, "value": 0},
                    "grid": true,
                    "gridColor": {"condition": {"test": "abs(datum.value*20-round(datum.value*20))<0.000001", "value": "#E3E3E3"}, "value": "#F1F1F1"},
                    "gridWidth": {"condition": {"test": "abs(datum.value*20-round(datum.value*20))<0.000001", "value": 1.6}, "value": 1}}},
     "y": {"field": "y", "type": "quantitative", "scale": {"domain": [-0.133, 0.2419], "nice": false, "zero": false},
           "axis": {"title": null,
                    "values": [-0.1,-0.05,0,0.05,0.1,0.15,0.2],
                    "labelExpr": "abs(datum.value*10-round(datum.value*10))<0.000001 ? format(datum.value,'.1f') : ''",
                    "labelFontSize": 18, "tickSize": 4, "labelPadding": 3,
                    "tickOpacity": {"condition": {"test": "abs(datum.value*10-round(datum.value*10))<0.000001", "value": 1}, "value": 0},
                    "grid": true,
                    "gridColor": {"condition": {"test": "abs(datum.value*10-round(datum.value*10))<0.000001", "value": "#E3E3E3"}, "value": "#F1F1F1"},
                    "gridWidth": {"condition": {"test": "abs(datum.value*10-round(datum.value*10))<0.000001", "value": 1.6}, "value": 1}}},
     "color": {"field": "grp", "type": "nominal", "scale": {"domain": ["EPS-0","EPS-1","EPS-3","EPS-7"], "range": ["#A57DB9","#EC706A","#68A42C","#3EB7BE"]},
               "legend": {"title": null, "orient": "none", "legendX": 21.5, "legendY": 356.8, "fillColor": "#FFFFFF", "padding": 6, "symbolSize": 289, "labelFontSize": 19, "labelColor": "#111111", "labelOffset": 16, "rowPadding": 7}}
    }
   }
  ],
  "spacing": 47, "bounds": "flush",
  "resolve": {"scale": {"color": "independent"}, "legend": {"color": "independent"}}
 },
 {
  "hconcat": [
   {"width": 48, "height": 683, "data": {"values": []}, "mark": "point"},
   {
    "width": 721, "height": 607,
    "view": {"stroke": "#222222", "strokeWidth": 1.5},
    "title": {"text": "G", "dx": -44, "offset": -12},
    "layer": [
     {"data": {"name": "gpts"},
      "mark": {"type": "circle", "size": 452, "opacity": 1},
      "encoding": {
       "x": {"field": "x", "type": "quantitative", "scale": {"domain": [-0.6058, 0.2577], "nice": false, "zero": false},
             "axis": {"title": "PC 1(68.6%)", "titleFontSize": 19, "titleY": 55, "titleBaseline": "alphabetic",
                      "values": [-0.6,-0.5,-0.4,-0.3,-0.2,-0.1,0,0.1,0.2],
                      "labelExpr": "abs(datum.value*5-round(datum.value*5))<0.000001 ? format(datum.value,'.1f') : ''",
                      "labelFontSize": 20, "tickSize": 6, "labelPadding": 4,
                      "tickOpacity": {"condition": {"test": "abs(datum.value*5-round(datum.value*5))<0.000001", "value": 1}, "value": 0},
                      "grid": true,
                      "gridColor": {"condition": {"test": "abs(datum.value*5-round(datum.value*5))<0.000001", "value": "#E3E3E3"}, "value": "#F1F1F1"},
                      "gridWidth": {"condition": {"test": "abs(datum.value*5-round(datum.value*5))<0.000001", "value": 1.8}, "value": 1}}},
       "y": {"field": "y", "type": "quantitative", "scale": {"domain": [-0.1956, 0.2306], "nice": false, "zero": false},
             "axis": {"title": "PC2(8.2%)", "titleFontWeight": "bold", "titleFontSize": 19, "titleX": -45, "titleBaseline": "alphabetic",
                      "values": [-0.15,-0.1,-0.05,0,0.05,0.1,0.15,0.2],
                      "labelExpr": "abs(datum.value*10-round(datum.value*10))<0.000001 ? format(datum.value,'.1f') : ''",
                      "labelFontSize": 20, "tickSize": 6, "labelPadding": 8,
                      "tickOpacity": {"condition": {"test": "abs(datum.value*10-round(datum.value*10))<0.000001", "value": 1}, "value": 0},
                      "grid": true,
                      "gridColor": {"condition": {"test": "abs(datum.value*10-round(datum.value*10))<0.000001", "value": "#E3E3E3"}, "value": "#F1F1F1"},
                      "gridWidth": {"condition": {"test": "abs(datum.value*10-round(datum.value*10))<0.000001", "value": 1.8}, "value": 1}}},
       "color": {"field": "grp", "type": "nominal", "scale": {"domain": ["HNUB20","Control","EPS"], "range": ["#F8766D","#00BA38","#619CFF"]},
                 "legend": {"title": null, "orient": "none", "legendX": 12, "legendY": 448.5, "fillColor": "#FFFFFF", "padding": 6, "symbolType": "circle", "symbolSize": 452, "labelFontSize": 20, "labelColor": "#000000", "labelOffset": 15, "rowPadding": 21}}
      }},
     {"data": {"values": [{}]},
      "mark": {"type": "text", "align": "left", "baseline": "alphabetic", "fontSize": 39, "color": "#000000"},
      "encoding": {
       "x": {"datum": -0.531, "type": "quantitative", "scale": {"domain": [-0.6058, 0.2577], "nice": false, "zero": false}},
       "y": {"datum": 0.1398, "type": "quantitative", "scale": {"domain": [-0.1956, 0.2306], "nice": false, "zero": false}},
       "text": {"value": "Adonis =0.047"}
      }},
     {"data": {"values": [{}]},
      "mark": {"type": "text", "align": "left", "baseline": "alphabetic", "fontSize": 39, "color": "#000000"},
      "encoding": {
       "x": {"datum": -0.531, "type": "quantitative", "scale": {"domain": [-0.6058, 0.2577], "nice": false, "zero": false}},
       "y": {"datum": 0.1147, "type": "quantitative", "scale": {"domain": [-0.1956, 0.2306], "nice": false, "zero": false}},
       "text": {"value": "R² = 0.2475"}
      }}
    ]
   },
   {"width": 30, "height": 1, "data": {"values": []}, "mark": "point"},
   {
    "width": 760, "height": 608,
    "view": {"stroke": "#555555", "strokeWidth": 2},
    "title": {"text": "H", "dx": -42, "offset": -16},
    "data": {"name": "dens"},
    "encoding": {
     "x": {"field": "x", "type": "quantitative", "scale": {"domain": [-0.0679, 0.968], "nice": false, "zero": false},
           "axis": {"title": null, "values": [0,0.2,0.4,0.6,0.8], "format": ".1f", "labelFontSize": 21, "labelColor": "#000000", "tickSize": 7, "tickColor": "#444444", "tickWidth": 1.5, "labelPadding": 1, "grid": false}},
     "y": {"field": "y", "type": "quantitative", "stack": null, "scale": {"domain": [-0.169, 4.669], "nice": false, "zero": false},
           "axis": {"title": "Density", "titleFontSize": 24, "titleX": -32, "titleBaseline": "alphabetic", "values": [0,1,2,3,4], "format": "d", "labelFontSize": 21, "labelColor": "#000000", "tickSize": 6, "tickColor": "#444444", "tickWidth": 1.5, "labelPadding": 5, "grid": false}}
    },
    "layer": [
     {"transform": [{"filter": "datum.s === 'HNUB20 vs Con'"}],
      "mark": {"type": "area", "fillOpacity": 0.6, "interpolate": "monotone"},
      "encoding": {"color": {"field": "s", "type": "nominal", "scale": {"domain": ["EPS vs Con", "HNUB20 vs Con"], "range": ["#B5F5CE", "#F8C4CF"]},
                   "legend": {"title": null, "orient": "none", "legendX": 584.5, "legendY": 29, "padding": 0, "symbolType": "circle", "symbolSize": 346, "symbolOpacity": 1, "labelFontSize": 16, "labelColor": "#000000", "labelOffset": 9.5, "rowPadding": 18}}}},
     {"transform": [{"filter": "datum.s === 'HNUB20 vs Con'"}],
      "mark": {"type": "line", "color": "#FF2A2A", "strokeWidth": 1.6, "interpolate": "monotone"}},
     {"transform": [{"filter": "datum.s === 'EPS vs Con'"}],
      "mark": {"type": "area", "fillOpacity": 0.6, "interpolate": "monotone"},
      "encoding": {"color": {"field": "s", "type": "nominal", "scale": {"domain": ["EPS vs Con", "HNUB20 vs Con"], "range": ["#B5F5CE", "#F8C4CF"]}}}},
     {"transform": [{"filter": "datum.s === 'EPS vs Con'"}],
      "mark": {"type": "line", "color": "#3BD15A", "strokeWidth": 1.6, "strokeDash": [5, 4], "interpolate": "monotone"}}
    ]
   }
  ],
  "spacing": 40, "bounds": "flush",
  "resolve": {"scale": {"color": "independent"}, "legend": {"color": "independent"}}
 },
 {
  "hconcat": [
   {"width": 46, "height": 75, "data": {"values": []}, "mark": "point"},
   {"width": 324, "height": 58, "view": {"fill": "#E24F54", "stroke": null},
    "title": {"text": "I", "dx": -21.5, "offset": -13},
    "data": {"values": [{"t": "HNUB20"}]},
    "mark": {"type": "text", "color": "#FFFFFF", "fontSize": 50, "baseline": "middle", "align": "center"},
    "encoding": {"text": {"field": "t", "type": "nominal"}}},
   {"width": 324, "height": 58, "view": {"fill": "#238B3A", "stroke": null},
    "data": {"values": [{"t": "Control"}]},
    "mark": {"type": "text", "color": "#FFFFFF", "fontSize": 50, "baseline": "middle", "align": "center"},
    "encoding": {"text": {"field": "t", "type": "nominal"}}},
   {"width": 324, "height": 58, "view": {"fill": "#4A6AB0", "stroke": null},
    "data": {"values": [{"t": "EPS"}]},
    "mark": {"type": "text", "color": "#FFFFFF", "fontSize": 50, "baseline": "middle", "align": "center"},
    "encoding": {"text": {"field": "t", "type": "nominal"}}}
  ],
  "spacing": 39, "bounds": "flush"
 },
 {
  "hconcat": [
   {"width": 49, "height": 346,
    "data": {"name": "dendro"},
    "mark": {"type": "rule", "color": "#222222", "strokeWidth": 1.5, "strokeCap": "square"},
    "encoding": {
     "x": {"field": "h1", "type": "quantitative", "scale": {"domain": [33, 82], "reverse": true, "nice": false, "zero": false}, "axis": null},
     "x2": {"field": "h2"},
     "y": {"field": "r1", "type": "quantitative", "scale": {"domain": [-0.5, 6.5], "reverse": true, "nice": false, "zero": false}, "axis": null},
     "y2": {"field": "r2"}
    }},
   {"width": 328, "height": 346,
    "data": {"name": "heat"},
    "transform": [{"filter": "datum.grp === 'HNUB20'"}, {"fold": ["1","2","3","4","5"], "as": ["s", "z"]}],
    "mark": {"type": "rect", "stroke": "#A8A8A8", "strokeWidth": 1.5},
    "encoding": {
     "x": {"field": "s", "type": "ordinal", "scale": {"domain": ["1","2","3","4","5"], "paddingInner": 0, "paddingOuter": 0}, "axis": null},
     "y": {"field": "genus", "type": "nominal", "scale": {"domain": ["Ochrobactrum","Pelomonas","Lactobacillus","Sediminibacterium","Sphingomonas","Sphingobium","Brachybacterium"], "paddingInner": 0, "paddingOuter": 0},
           "axis": {"orient": "right", "title": null, "domain": false, "ticks": false, "labelExpr": "indexof(['Ochrobactrum','Sediminibacterium','Sphingomonas','Sphingobium'], datum.value) >= 0 ? '*' : ''", "labelFontSize": 48, "labelPadding": 11, "labelOffset": 8, "labelColor": "#000000", "labelBaseline": "middle", "labelAlign": "left"}},
     "color": {"field": "z", "type": "quantitative", "scale": {"domain": [-2, -1.3333, -0.6667, 0, 0.6667, 1.3333, 2], "range": ["#4F64A6","#8DB0D2","#DEEEEE","#F7F6C0","#F5D98F","#EE8C5C","#C4302E"], "interpolate": "rgb"}, "legend": null}
    }},
   {"width": 328, "height": 346,
    "data": {"name": "heat"},
    "transform": [{"filter": "datum.grp === 'Control'"}, {"fold": ["1","2","3","4","5"], "as": ["s", "z"]}],
    "mark": {"type": "rect", "stroke": "#A8A8A8", "strokeWidth": 1.5},
    "encoding": {
     "x": {"field": "s", "type": "ordinal", "scale": {"domain": ["1","2","3","4","5"], "paddingInner": 0, "paddingOuter": 0}, "axis": null},
     "y": {"field": "genus", "type": "nominal", "scale": {"domain": ["Ochrobactrum","Pelomonas","Lactobacillus","Sediminibacterium","Sphingomonas","Sphingobium","Brachybacterium"], "paddingInner": 0, "paddingOuter": 0}, "axis": null},
     "color": {"field": "z", "type": "quantitative", "scale": {"domain": [-2, -1.3333, -0.6667, 0, 0.6667, 1.3333, 2], "range": ["#4F64A6","#8DB0D2","#DEEEEE","#F7F6C0","#F5D98F","#EE8C5C","#C4302E"], "interpolate": "rgb"}, "legend": null}
    }},
   {"width": 330, "height": 346,
    "data": {"name": "heat"},
    "transform": [{"filter": "datum.grp === 'EPS'"}, {"fold": ["1","2","3","4","5"], "as": ["s", "z"]}],
    "layer": [
     {"mark": {"type": "rect", "stroke": "#A8A8A8", "strokeWidth": 1.5},
      "encoding": {
       "x": {"field": "s", "type": "ordinal", "scale": {"domain": ["1","2","3","4","5"], "paddingInner": 0, "paddingOuter": 0}, "axis": null},
       "y": {"field": "genus", "type": "nominal", "scale": {"domain": ["Ochrobactrum","Pelomonas","Lactobacillus","Sediminibacterium","Sphingomonas","Sphingobium","Brachybacterium"], "paddingInner": 0, "paddingOuter": 0},
             "axis": {"orient": "right", "title": null, "domain": false, "ticks": false, "labelExpr": "indexof(['Pelomonas','Lactobacillus','Sphingobium','Brachybacterium'], datum.value) >= 0 ? '*' : ''", "labelFontSize": 48, "labelPadding": 7, "labelOffset": 8, "labelColor": "#000000", "labelBaseline": "middle", "labelAlign": "left"}},
       "color": {"field": "z", "type": "quantitative", "scale": {"domain": [-2, -1.3333, -0.6667, 0, 0.6667, 1.3333, 2], "range": ["#4F64A6","#8DB0D2","#DEEEEE","#F7F6C0","#F5D98F","#EE8C5C","#C4302E"], "interpolate": "rgb"},
                 "legend": {"title": null, "orient": "none", "legendX": 818, "legendY": 5, "direction": "vertical", "gradientLength": 338, "gradientThickness": 43, "gradientStrokeWidth": 0, "labelFontSize": 30, "labelOffset": 19, "labelColor": "#111111", "values": [-2,-1,0,1,2], "format": "d"}}
      }},
     {"mark": {"type": "rect", "opacity": 0},
      "encoding": {
       "x": {"field": "s", "type": "ordinal", "scale": {"domain": ["1","2","3","4","5"], "paddingInner": 0, "paddingOuter": 0}, "axis": null},
       "y": {"field": "genus", "type": "nominal", "scale": {"domain": ["Ochrobactrum","Pelomonas","Lactobacillus","Sediminibacterium","Sphingomonas","Sphingobium","Brachybacterium"], "paddingInner": 0, "paddingOuter": 0},
             "axis": {"orient": "right", "title": null, "domain": false, "ticks": false, "labelFontSize": 52, "labelFontStyle": "italic", "labelPadding": 40, "labelColor": "#000000", "labelLimit": 1000, "labelBaseline": "middle", "labelAlign": "left"}}
      }}
    ],
    "resolve": {"scale": {"y": "independent"}}
   }
  ],
  "spacing": 34, "bounds": "flush",
  "resolve": {"scale": {"color": "independent"}, "legend": {"color": "independent"}}
 }
]
}
